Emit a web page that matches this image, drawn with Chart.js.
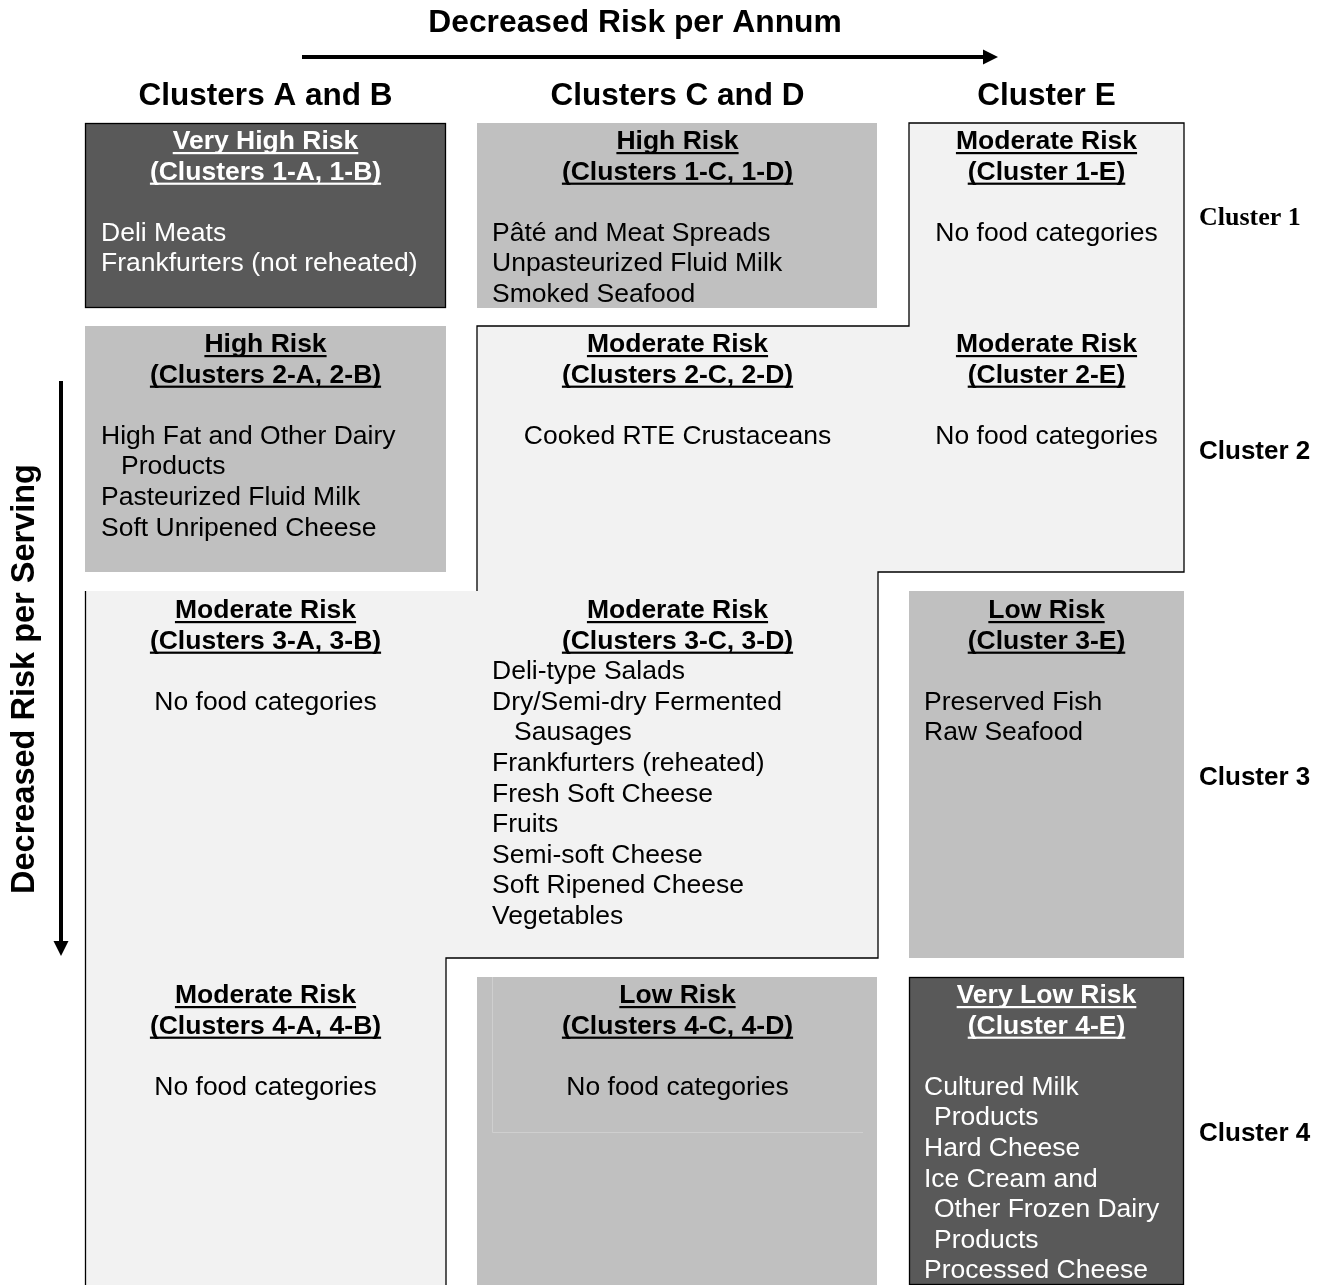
<!DOCTYPE html>
<html>
<head>
<meta charset="utf-8">
<script src="https://cdn.jsdelivr.net/npm/chart.js@4.4.1/dist/chart.umd.min.js"></script>
<style>
html,body{margin:0;padding:0;background:#fff;}
canvas{display:block;}
</style>
</head>
<body>
<canvas id="c" width="1326" height="1285"></canvas>
<script>
// ---------------- DATA ----------------
const axisTitles = ["Decreased Risk per Annum", "Decreased Risk per Serving"];
const columns = ["Clusters A and B", "Clusters C and D", "Cluster E"];
const rowLabels = ["Cluster 1", "Cluster 2", "Cluster 3", "Cluster 4"];
const riskLevels = [
  ["Very High Risk", "High Risk", "Moderate Risk"],
  ["High Risk", "Moderate Risk", "Moderate Risk"],
  ["Moderate Risk", "Moderate Risk", "Low Risk"],
  ["Moderate Risk", "Low Risk", "Very Low Risk"]
];
const clusterCodes = [
  ["(Clusters 1-A, 1-B)", "(Clusters 1-C, 1-D)", "(Cluster 1-E)"],
  ["(Clusters 2-A, 2-B)", "(Clusters 2-C, 2-D)", "(Cluster 2-E)"],
  ["(Clusters 3-A, 3-B)", "(Clusters 3-C, 3-D)", "(Cluster 3-E)"],
  ["(Clusters 4-A, 4-B)", "(Clusters 4-C, 4-D)", "(Cluster 4-E)"]
];
// a nested array is one food category wrapped over several lines
const foodCategories = [
  [["Deli Meats", "Frankfurters (not reheated)"],
   ["Pâté and Meat Spreads", "Unpasteurized Fluid Milk", "Smoked Seafood"],
   ["No food categories"]],
  [[["High Fat and Other Dairy", "Products"], "Pasteurized Fluid Milk", "Soft Unripened Cheese"],
   ["Cooked RTE Crustaceans"],
   ["No food categories"]],
  [["No food categories"],
   ["Deli-type Salads", ["Dry/Semi-dry Fermented", "Sausages"], "Frankfurters (reheated)", "Fresh Soft Cheese",
    "Fruits", "Semi-soft Cheese", "Soft Ripened Cheese", "Vegetables"],
   ["Preserved Fish", "Raw Seafood"]],
  [["No food categories"],
   ["No food categories"],
   [["Cultured Milk", "Products"], "Hard Cheese", ["Ice Cream and", "Other Frozen Dairy", "Products"], "Processed Cheese"]]
];

// ---------------- LAYOUT & STYLE (scale units) ----------------
const LAYOUT = {
  width: 1326, height: 1285,
  colEdges: [[85, 446], [477, 878], [909, 1184]],
  rowEdges: [[123, 308], [326, 572], [591, 958], [977, 1285]],
  rowTextTop: [149, 352, 618, 1003],
  lineH: 30.6,
  itemX: [101, 492, 924],
  wrapIndent: [20, 22, 10],
  noGapCells: ["2,1"],
  rowLabelX: 1199,
  rowLabelBase: [225, 459, 785, 1141],
  colHeaderBase: 105,
  titleX: 635, titleBase: 32,
  hArrow: {x0: 302, x1: 998, y: 57},
  vArrow: {x: 61, y0: 381, y1: 956},
  vTitle: {x: 34, y: 679}
};
const SANS = '"Liberation Sans", Arial, Helvetica, sans-serif';
const SERIF = '"Liberation Serif", "Times New Roman", serif';
const RISK_STYLE = {
  "Very High Risk": {fill: "#595959", text: "#ffffff", border: true},
  "Very Low Risk":  {fill: "#595959", text: "#ffffff", border: true},
  "High Risk":      {fill: "#c0c0c0", text: "#000000", border: false},
  "Low Risk":       {fill: "#c0c0c0", text: "#000000", border: false},
  "Moderate Risk":  {fill: "#f2f2f2", text: "#000000", merged: true}
};

// ---------------- PLUGIN ----------------
const riskGrid = {
  id: 'riskGrid',
  beforeDatasetsDraw(chart) {
    const ctx = chart.ctx;
    const xs = chart.scales.x, ys = chart.scales.y;
    const X = v => xs.getPixelForValue(v);
    const Y = v => ys.getPixelForValue(v);
    const C = LAYOUT.colEdges, R = LAYOUT.rowEdges;

    function text(str, x, base, font, color, align, underline) {
      ctx.font = font;
      ctx.fillStyle = color;
      ctx.textAlign = align || 'left';
      ctx.textBaseline = 'alphabetic';
      ctx.fillText(str, X(x), Y(base));
      if (underline) {
        const w = ctx.measureText(str).width;
        let sx = X(x);
        if (align === 'center') sx -= w / 2;
        ctx.fillStyle = color;
        ctx.fillRect(sx, Y(base) + 3, w, 2.2);
      }
    }

    ctx.save();
    // merged moderate region (staircase)
    const poly = [
      [C[2][0], R[0][0]], [C[2][1], R[0][0]], [C[2][1], R[1][1]], [C[1][1], R[1][1]],
      [C[1][1], R[2][1]], [C[0][1], R[2][1]], [C[0][1], R[3][1]], [C[0][0], R[3][1]],
      [C[0][0], R[2][0]], [C[1][0], R[2][0]], [C[1][0], R[1][0]], [C[2][0], R[1][0]]
    ];
    ctx.beginPath();
    poly.forEach((p, i) => i ? ctx.lineTo(X(p[0]), Y(p[1])) : ctx.moveTo(X(p[0]), Y(p[1])));
    ctx.closePath();
    ctx.fillStyle = RISK_STYLE["Moderate Risk"].fill;
    ctx.fill();
    ctx.strokeStyle = '#000';
    ctx.lineWidth = 1.3;
    ctx.beginPath();
    ctx.moveTo(X(poly[8][0]) + 0.5, Y(poly[7][1]));
    ctx.lineTo(X(poly[8][0]) + 0.5, Y(poly[8][1]));
    ctx.stroke();
    ctx.beginPath();
    for (let i = 9; i <= 12 + 6; i++) {
      const p = poly[i % 12];
      if (i === 9) ctx.moveTo(X(p[0]), Y(p[1])); else ctx.lineTo(X(p[0]), Y(p[1]));
    }
    ctx.stroke();

    // individual cells
    riskLevels.forEach((row, r) => row.forEach((lvl, c) => {
      const st = RISK_STYLE[lvl];
      if (st.merged) return;
      const x0 = X(C[c][0]), x1 = X(C[c][1]) - (c === 1 ? 1 : 0), y0 = Y(R[r][0]), y1 = Y(R[r][1]);
      ctx.fillStyle = st.fill;
      ctx.fillRect(x0, y0, x1 - x0, y1 - y0);
      if (st.border) {
        ctx.strokeStyle = '#000';
        ctx.lineWidth = 1.3;
        ctx.strokeRect(x0 + 0.5, y0 + 0.5, x1 - x0 - 1, y1 - y0 - 1);
      }
    }));
    // faint table artefact in 4-C/4-D
    ctx.strokeStyle = '#cfcfcf';
    ctx.lineWidth = 1;
    ctx.beginPath();
    ctx.moveTo(X(492) + 0.5, Y(R[3][0]));
    ctx.lineTo(X(492) + 0.5, Y(1132) + 0.5);
    ctx.lineTo(X(863), Y(1132) + 0.5);
    ctx.stroke();

    // cell text
    const lh = LAYOUT.lineH;
    riskLevels.forEach((row, r) => row.forEach((lvl, c) => {
      const st = RISK_STYLE[lvl];
      const cx = (C[c][0] + C[c][1]) / 2;
      const top = LAYOUT.rowTextTop[r];
      text(lvl, cx, top, 'bold 26.5px ' + SANS, st.text, 'center', true);
      text(clusterCodes[r][c], cx, top + lh, 'bold 26.5px ' + SANS, st.text, 'center', true);
      let line = LAYOUT.noGapCells.includes(r + ',' + c) ? 2 : 3;
      const items = foodCategories[r][c];
      const single = items.length === 1 && !Array.isArray(items[0]);
      items.forEach(it => {
        const parts = Array.isArray(it) ? it : [it];
        parts.forEach((p, k) => {
          const b = top + lh * line;
          if (single) text(p, cx, b, '26.5px ' + SANS, st.text, 'center');
          else text(p, LAYOUT.itemX[c] + (k ? LAYOUT.wrapIndent[c] : 0), b, '26.5px ' + SANS, st.text, 'left');
          line++;
        });
      });
    }));

    // column headers
    columns.forEach((h, c) => {
      text(h, (C[c][0] + C[c][1]) / 2, LAYOUT.colHeaderBase, 'bold 31.5px ' + SANS, '#000', 'center');
    });
    // row labels (first one is set in a serif face, as in the original)
    rowLabels.forEach((h, r) => {
      const font = r === 0 ? 'bold 26px ' + SERIF : 'bold 26px ' + SANS;
      text(h, LAYOUT.rowLabelX, LAYOUT.rowLabelBase[r], font, '#000', 'left');
    });

    // top title + arrow
    text(axisTitles[0], LAYOUT.titleX, LAYOUT.titleBase, 'bold 31.8px ' + SANS, '#000', 'center');
    const ha = LAYOUT.hArrow;
    ctx.fillStyle = '#000';
    ctx.fillRect(X(ha.x0), Y(ha.y) - 2, X(ha.x1 - 14) - X(ha.x0), 4);
    ctx.beginPath();
    ctx.moveTo(X(ha.x1), Y(ha.y));
    ctx.lineTo(X(ha.x1 - 15), Y(ha.y) - 7.5);
    ctx.lineTo(X(ha.x1 - 15), Y(ha.y) + 7.5);
    ctx.closePath();
    ctx.fill();

    // left title + arrow
    const vt = LAYOUT.vTitle;
    ctx.save();
    ctx.translate(X(vt.x), Y(vt.y));
    ctx.rotate(-Math.PI / 2);
    ctx.font = 'bold 32.5px ' + SANS;
    ctx.fillStyle = '#000';
    ctx.textAlign = 'center';
    ctx.textBaseline = 'alphabetic';
    ctx.fillText(axisTitles[1], 0, 0);
    ctx.restore();
    const va = LAYOUT.vArrow;
    ctx.fillRect(X(va.x) - 2, Y(va.y0), 4, Y(va.y1 - 14) - Y(va.y0));
    ctx.beginPath();
    ctx.moveTo(X(va.x), Y(va.y1));
    ctx.lineTo(X(va.x) - 7.5, Y(va.y1 - 15));
    ctx.lineTo(X(va.x) + 7.5, Y(va.y1 - 15));
    ctx.closePath();
    ctx.fill();
    ctx.restore();
  }
};

new Chart(document.getElementById('c'), {
  type: 'scatter',
  data: {datasets: [{data: [], pointRadius: 0}]},
  options: {
    responsive: false,
    devicePixelRatio: 1,
    animation: false,
    events: [],
    layout: {padding: 0},
    plugins: {legend: {display: false}, tooltip: {enabled: false}, title: {display: false}},
    scales: {
      x: {type: 'linear', min: 0, max: LAYOUT.width, display: false},
      y: {type: 'linear', min: 0, max: LAYOUT.height, reverse: true, display: false}
    }
  },
  plugins: [riskGrid]
});
</script>
</body>
</html>
